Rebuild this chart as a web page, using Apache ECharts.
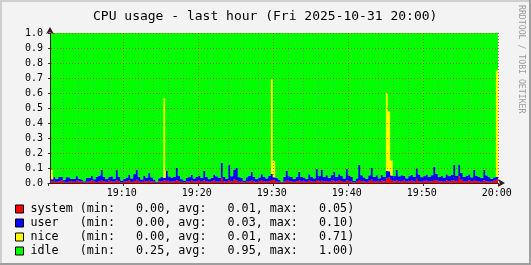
<!DOCTYPE html>
<html><head><meta charset="utf-8">
<script src="https://cdn.jsdelivr.net/npm/echarts@6/dist/echarts.min.js"></script>
<style>html,body{margin:0;padding:0;background:#F3F3F3}#c{width:531px;height:265px}</style>
</head><body><div id="c"></div>
<script>
const TITLE = 'CPU usage - last hour (Fri 2025-10-31 20:00)';
const WATERMARK = 'RRDTOOL / TOBI OETIKER';
const seriesNames = ['system', 'user', 'nice', 'idle'];
const seriesColors = ['#FF0000', '#0000FF', '#FFFF00', '#00FF00'];
const statMin = ['0.00', '0.00', '0.00', '0.25'];
const statAvg = ['0.01', '0.03', '0.01', '0.95'];
const statMax = ['0.05', '0.10', '0.71', '1.00'];
const yTickLabels = ['0.0','0.1','0.2','0.3','0.4','0.5','0.6','0.7','0.8','0.9','1.0'];
// one sample every 20 s; sample k covers the 20 s ending at 19:00:20 + 20*k s
const START_HOUR = 19, SAMPLE_SEC = 20, SAMPLE_COUNT = 180;
const LABEL_EVERY = 30;   // a time label every 10 minutes
const MINOR_EVERY = 6;    // a minor grid line every 2 minutes

const system = [
 null,0.010,0.015,0.008,0.011,0.018,0.009,0.004,0.010,0.012,
 0.008,0.016,0.010,0.012,0.003,0.009,0.011,0.017,0.010,0.007,
 0.010,0.015,0.012,0.008,0.016,0.010,0.009,0.018,0.011,0.004,
 0.009,0.012,0.017,0.008,0.014,0.022,0.010,0.008,0.015,0.011,
 0.016,0.010,0.009,0.003,0.012,0.010,0.017,0.015,0.009,0.012,
 0.010,0.018,0.012,0.008,0.004,0.011,0.009,0.016,0.010,0.012,
 0.015,0.009,0.018,0.010,0.008,0.012,0.017,0.010,0.009,0.035,
 0.011,0.008,0.020,0.010,0.024,0.018,0.009,0.011,0.004,0.010,
 0.012,0.016,0.010,0.008,0.012,0.019,0.010,0.009,0.012,0.020,
 0.018,0.010,0.008,0.003,0.011,0.016,0.010,0.012,0.008,0.011,
 0.017,0.010,0.012,0.008,0.018,0.010,0.009,0.020,0.011,0.016,
 0.010,0.012,0.009,0.017,0.011,0.010,0.019,0.012,0.008,0.018,
 0.010,0.011,0.004,0.009,0.020,0.012,0.010,0.008,0.016,0.022,
 0.010,0.012,0.009,0.018,0.012,0.030,0.038,0.020,0.011,0.017,
 0.010,0.012,0.018,0.009,0.011,0.016,0.010,0.028,0.012,0.009,
 0.011,0.017,0.010,0.012,0.020,0.016,0.010,0.012,0.009,0.018,
 0.011,0.016,0.020,0.012,0.045,0.022,0.010,0.012,0.018,0.010,
 0.020,0.012,0.010,0.008,0.017,0.011,0.009,0.010,0.016,0.022];

const user = [
 null,0.015,0.025,0.018,0.030,0.022,0.012,0.035,0.028,0.015,
 0.020,0.030,0.018,0.012,0.008,0.025,0.022,0.030,0.015,0.035,
 0.040,0.072,0.030,0.018,0.025,0.035,0.020,0.068,0.030,0.012,
 0.018,0.025,0.040,0.022,0.045,0.068,0.030,0.015,0.035,0.025,
 0.050,0.028,0.015,0.006,0.020,0.030,0.018,0.065,0.035,0.025,
 0.030,0.082,0.035,0.018,0.010,0.025,0.030,0.040,0.020,0.028,
 0.035,0.025,0.062,0.030,0.018,0.022,0.040,0.035,0.025,0.100,
 0.030,0.020,0.100,0.035,0.066,0.082,0.030,0.025,0.010,0.028,
 0.035,0.059,0.030,0.018,0.025,0.040,0.030,0.022,0.035,0.040,
 0.020,0.025,0.015,0.006,0.030,0.064,0.035,0.028,0.018,0.030,
 0.058,0.030,0.025,0.018,0.040,0.030,0.022,0.073,0.035,0.071,
 0.030,0.040,0.025,0.035,0.064,0.030,0.040,0.035,0.022,0.075,
 0.040,0.030,0.010,0.022,0.100,0.040,0.028,0.020,0.035,0.078,
 0.030,0.040,0.022,0.035,0.028,0.050,0.040,0.030,0.035,0.070,
 0.035,0.040,0.030,0.022,0.035,0.040,0.030,0.070,0.045,0.030,
 0.035,0.040,0.030,0.040,0.089,0.045,0.030,0.035,0.028,0.040,
 0.035,0.040,0.100,0.035,0.075,0.045,0.030,0.035,0.040,0.028,
 0.067,0.035,0.030,0.025,0.070,0.040,0.030,0.018,0.022,0.018];

const nice = [
 null,0.062,0,0,0,0,0,0,0,0,
 0,0,0,0,0,0,0,0,0,0,
 0,0,0,0,0,0,0,0,0,0,
 0,0,0,0,0,0,0,0,0,0,
 0,0,0,0,0,0,0.53,0,0,0,
 0,0,0,0,0,0,0,0,0,0,
 0,0,0,0,0,0,0,0,0,0,
 0,0,0,0,0,0,0,0,0,0,
 0,0,0,0,0,0,0,0,0,0.63,
 0.11,0,0,0,0,0,0,0,0,0,
 0,0,0,0,0,0,0,0,0,0,
 0,0,0,0,0,0,0,0,0,0,
 0,0,0,0,0,0,0,0,0,0,
 0,0,0,0,0,0.52,0.40,0.10,0,0,
 0,0,0,0,0,0,0,0,0,0,
 0,0,0,0,0,0,0,0,0,0,
 0,0,0,0,0,0,0,0,0,0,
 0,0,0,0,0,0,0,0,0,0.71];

const idle = [
 null,0.913,0.960,0.974,0.959,0.960,0.979,0.961,0.962,0.973,
 0.972,0.954,0.972,0.976,0.989,0.966,0.967,0.953,0.975,0.958,
 0.950,0.913,0.958,0.974,0.959,0.955,0.971,0.914,0.959,0.984,
 0.973,0.963,0.943,0.970,0.941,0.910,0.960,0.977,0.950,0.964,
 0.934,0.962,0.976,0.991,0.968,0.960,0.435,0.920,0.956,0.963,
 0.960,0.900,0.953,0.974,0.986,0.964,0.961,0.944,0.970,0.960,
 0.950,0.966,0.920,0.960,0.974,0.966,0.943,0.955,0.966,0.865,
 0.959,0.972,0.880,0.955,0.910,0.900,0.961,0.964,0.986,0.962,
 0.953,0.925,0.960,0.974,0.963,0.941,0.960,0.969,0.953,0.310,
 0.852,0.965,0.977,0.991,0.959,0.920,0.955,0.960,0.974,0.959,
 0.925,0.960,0.963,0.974,0.942,0.960,0.969,0.907,0.954,0.913,
 0.960,0.948,0.966,0.948,0.925,0.960,0.941,0.953,0.970,0.907,
 0.950,0.959,0.986,0.969,0.880,0.948,0.962,0.972,0.949,0.900,
 0.960,0.948,0.969,0.947,0.960,0.400,0.522,0.850,0.954,0.913,
 0.955,0.948,0.952,0.969,0.954,0.944,0.960,0.902,0.943,0.961,
 0.954,0.943,0.960,0.948,0.891,0.939,0.960,0.953,0.963,0.942,
 0.954,0.944,0.880,0.953,0.880,0.933,0.960,0.953,0.942,0.962,
 0.913,0.953,0.960,0.967,0.913,0.949,0.961,0.972,0.962,0.250];

const seriesValues = [system, user, nice, idle];
const MONO = "'DejaVu Sans Mono', monospace";

function pad2(n) { return String(n).padStart(2, '0'); }
const sampleTimes = [];
for (let k = 0; k < SAMPLE_COUNT; k++) {
  const s = (k + 1) * SAMPLE_SEC;
  const h = START_HOUR + Math.floor(s / 3600);
  const m = Math.floor((s % 3600) / 60);
  sampleTimes.push(pad2(h) + ':' + pad2(m) + ':' + pad2(s % 60));
}

function legendText(name) {
  const i = seriesNames.indexOf(name);
  return name.padEnd(7) + '(min:' + statMin[i].padStart(7) + ', avg:' + statAvg[i].padStart(7) + ', max:' + statMax[i].padStart(7) + ')';
}

const axisDark = '#3a1a1a';
const majorGrid = {color: 'rgba(255,0,0,0.55)', type: [1, 2], width: 1};
const minorGrid = {color: 'rgba(120,120,120,0.55)', type: [1, 2], width: 1};

const chart = echarts.init(document.getElementById('c'), null, {renderer: 'canvas'});
chart.setOption({
  animation: false,
  backgroundColor: '#F3F3F3',
  title: {
    text: TITLE, left: 88, top: 5,
    textStyle: {fontFamily: MONO, fontSize: 13, fontWeight: 'normal', color: '#000'}
  },
  legend: {
    orient: 'vertical', left: 15, top: 202, padding: 0,
    itemWidth: 8, itemHeight: 8, itemGap: 0,
    selectedMode: false, icon: 'rect',
    itemStyle: {borderColor: '#000', borderWidth: 1},
    data: seriesNames,
    formatter: legendText,
    textStyle: {fontFamily: MONO, fontSize: 11.7, color: '#000', lineHeight: 14, padding: [0, 0, 0, 2]}
  },
  grid: {left: 48, right: 33, top: 33, bottom: 82, containLabel: false},
  xAxis: [{
    type: 'category', data: sampleTimes, boundaryGap: true, z: 5,
    axisLine: {show: true, onZero: false, lineStyle: {color: axisDark, width: 1},
      symbol: ['none', 'arrow'], symbolSize: [6, 7], symbolOffset: [0, 7]},
    axisTick: {show: true, length: 3, interval: i => i % LABEL_EVERY === 0, lineStyle: {color: '#333'}},
    axisLabel: {
      fontFamily: MONO, fontSize: 10, color: '#000', margin: 5,
      interval: i => i % LABEL_EVERY === LABEL_EVERY - 1,
      formatter: v => v.slice(0, 5)
    },
    splitLine: {show: true, interval: i => i % LABEL_EVERY === 0 && i > 0, lineStyle: majorGrid}
  }, {
    type: 'category', data: sampleTimes, boundaryGap: true, z: 4, position: 'bottom',
    axisLine: {show: false}, axisTick: {show: false}, axisLabel: {show: false},
    splitLine: {show: true, interval: i => i % MINOR_EVERY === 0 && i % LABEL_EVERY !== 0, lineStyle: minorGrid}
  }],
  yAxis: {
    type: 'value', min: 0, max: 1, interval: 0.1, z: 5, offset: -2,
    axisLine: {show: true, lineStyle: {color: axisDark, width: 1},
      symbol: ['none', 'arrow'], symbolSize: [6, 7], symbolOffset: [0, 6]},
    axisTick: {show: true, length: 2, lineStyle: {color: '#333'}},
    axisLabel: {
      fontFamily: MONO, fontSize: 10, color: '#000', margin: 7,
      formatter: v => yTickLabels[Math.round(v * 10)]
    },
    splitLine: {show: true, lineStyle: majorGrid}
  },
  series: seriesNames.map((name, i) => ({
    name, type: 'bar', stack: 'cpu', xAxisIndex: 0,
    barCategoryGap: '0%', barWidth: 3.2, z: 2,
    itemStyle: {color: seriesColors[i]},
    emphasis: {disabled: true},
    data: seriesValues[i]
  })),
  graphic: [
    {type: 'rect', shape: {x: 0, y: 0, width: 531, height: 2}, style: {fill: '#CFCFCF'}, silent: true},
    {type: 'rect', shape: {x: 0, y: 0, width: 2, height: 265}, style: {fill: '#CFCFCF'}, silent: true},
    {type: 'rect', shape: {x: 0, y: 263, width: 531, height: 2}, style: {fill: '#9E9E9E'}, silent: true},
    {type: 'rect', shape: {x: 529, y: 0, width: 2, height: 265}, style: {fill: '#9E9E9E'}, silent: true},
    {type: 'text', x: 521, y: 5, rotation: -Math.PI / 2, silent: true,
      style: {text: WATERMARK, font: "8.2px 'DejaVu Sans Mono'", fill: '#9a9a9a', textAlign: 'left', textVerticalAlign: 'middle'}}
  ]
});
</script>
</body></html>
